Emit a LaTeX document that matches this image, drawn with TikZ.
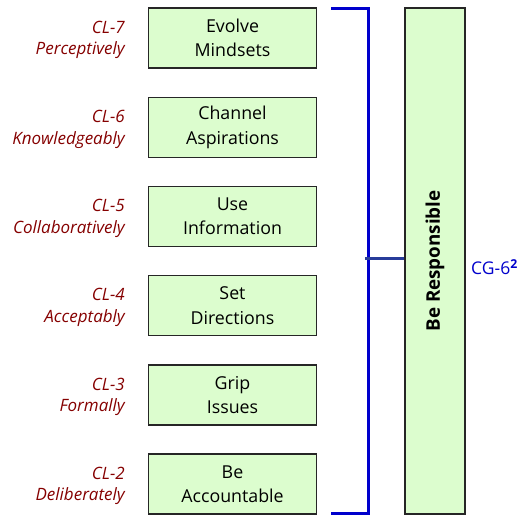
\documentclass[tikz,border=0pt]{standalone}
\usepackage{fontspec}
\setmainfont{Open Sans}
\definecolor{boxfill}{HTML}{DCFDCE}
\definecolor{lblred}{HTML}{850000}
\definecolor{brblue}{HTML}{0000CC}
\definecolor{tickblue}{HTML}{283C9A}
\begin{document}
\begin{tikzpicture}[x=1pt,y=-1pt,
  stepbox/.style={draw=black!85,line width=1.4pt,fill=boxfill,minimum width=168pt,minimum height=60pt,inner sep=0pt,align=center,font=\fontsize{17.8}{24.5}\selectfont},
  lvl/.style={anchor=east,align=right,text=lblred,font=\fontsize{17}{21.5}\selectfont\itshape,inner sep=0pt},
  brk/.style={draw=brblue,line width=3pt}]
\useasboundingbox (0,0) rectangle (525,523);
\foreach \i/\t/\cl/\adv [count=\k from 0] in {
  a/{Evolve\\Mindsets}/CL-7/Perceptively,
  b/{Channel\\Aspirations}/CL-6/Knowledgeably,
  c/{Use\\Information}/CL-5/Collaboratively,
  d/{Set\\Directions}/CL-4/Acceptably,
  e/{Grip\\Issues}/CL-3/Formally,
  f/{Be\\Accountable}/CL-2/Deliberately}{
  \node[stepbox] (\i) at (232.5,{38+89.2*\k}) {\t};
  \node[lvl] (l\i) at (125,{40+89.2*\k}) {\cl\\\adv};
}
\node[draw=black!85,line width=1.4pt,fill=boxfill,minimum width=60pt,minimum height=506pt,inner sep=0pt] (resp) at (435,261) {};
\node[rotate=90,font=\fontsize{18.8}{21}\selectfont\bfseries] (resptext) at (resp.center) {Be Responsible};
\coordinate (bt) at (331,8);
\coordinate (bb) at (331,513.5);
\draw[brk] (bt) -| (368,513.5) -- (bb);
\coordinate (tk) at (365,258);
\draw[draw=tickblue,line width=3pt] (tk) -- (resp.west |- tk);
\node[anchor=west,text=brblue,font=\fontsize{17.5}{19}\selectfont,inner sep=0pt] (cg) at (471,267) {CG-6\textsuperscript{\bfseries 2}};
\end{tikzpicture}
\end{document}
